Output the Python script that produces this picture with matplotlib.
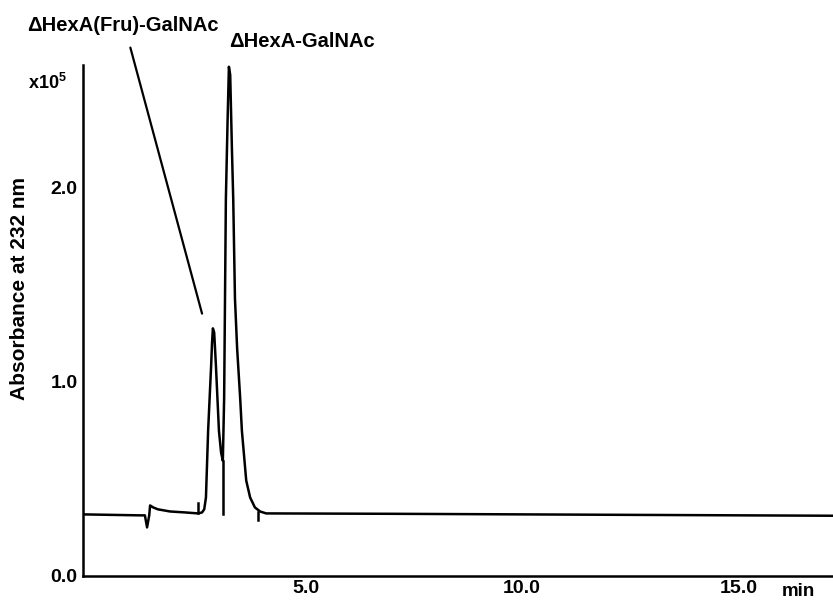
import matplotlib
matplotlib.use("Agg")
import matplotlib.pyplot as plt

plt.rcParams["font.family"] = ["Liberation Sans", "DejaVu Sans"]
plt.rcParams["font.weight"] = "bold"
plt.rcParams["mathtext.fontset"] = "custom"
plt.rcParams["mathtext.rm"] = "Liberation Sans:bold"
plt.rcParams["mathtext.bf"] = "Liberation Sans:bold"

# cromatograma (tiempo en min, absorbancia x1e5)
tiempo = [-0.14, 1.18, 1.29, 1.34, 1.39, 1.41, 1.48, 1.59, 1.87, 2.22, 2.52,
          2.61, 2.66, 2.70, 2.75, 2.82, 2.84, 2.86, 2.89, 2.93, 3.00, 3.05,
          3.09, 3.12, 3.14, 3.16, 3.20, 3.23, 3.26, 3.30, 3.33, 3.37, 3.42,
          3.49, 3.53, 3.63, 3.72, 3.83, 3.95, 4.09, 7.0, 12.0, 17.2]
absorbancia = [0.317, 0.312, 0.312, 0.25, 0.312, 0.363, 0.353, 0.343, 0.332,
               0.327, 0.322, 0.327, 0.343, 0.404, 0.747, 1.084, 1.197, 1.274,
               1.253, 1.084, 0.747, 0.634, 0.593, 0.916, 1.427, 1.939, 2.348,
               2.62, 2.578, 2.194, 1.939, 1.427, 1.171, 0.916, 0.747, 0.491,
               0.404, 0.353, 0.332, 0.322, 0.32, 0.315, 0.31]

# marcas de integracion (tiempo, desde, hasta)
marcas = [(2.52, 0.322, 0.373), (3.09, 0.32, 0.593), (3.90, 0.33, 0.286)]

xticks = [5.0, 10.0, 15.0]
yticks = [0.0, 1.0, 2.0]

fig = plt.figure(figsize=(8.33, 6), dpi=100)
ax = fig.add_axes([0.0996, 0.04, 0.9004, 0.852])

ax.plot(tiempo, absorbancia, color="black", lw=1.8)
for t, a0, a1 in marcas:
    ax.plot([t, t], [a0, a1], color="black", lw=1.8)

ax.set_xlim(-0.14, 17.18)
ax.set_ylim(0, 2.63)
ax.set_xticks(xticks)
ax.set_xticklabels([f"{v:.1f}" for v in xticks])
ax.set_yticks(yticks)
ax.set_yticklabels([f"{v:.1f}" for v in yticks])
ax.tick_params(length=0, labelsize=14)
ax.tick_params(axis="x", pad=3)
ax.tick_params(axis="y", pad=4)

for s in ["top", "right"]:
    ax.spines[s].set_visible(False)
for s in ["left", "bottom"]:
    ax.spines[s].set_linewidth(1.8)

fig.text(0.024, 0.52, "Absorbance at 232 nm", rotation=90, ha="center",
         va="center", fontsize=15, fontweight="bold")
fig.text(0.034, 0.862, r"x10$^{5}$", ha="left", va="center", fontsize=13,
         fontweight="bold")
fig.text(0.958, 0.014, "min", ha="center", va="center", fontsize=13.5,
         fontweight="bold")

ax.annotate("\u0394HexA(Fru)-GalNAc", xy=(2.61, 1.35), xytext=(0.79, 2.83),
            ha="center", va="center", fontsize=14.5, fontweight="bold",
            annotation_clip=False,
            arrowprops=dict(arrowstyle="-", color="black", lw=1.6,
                            shrinkA=7, shrinkB=0, relpos=(0.52, 0)))
ax.text(3.23, 2.75, "\u0394HexA-GalNAc", ha="left", va="center",
        fontsize=14.5, fontweight="bold", clip_on=False)

fig.savefig("out.png", dpi=100)
